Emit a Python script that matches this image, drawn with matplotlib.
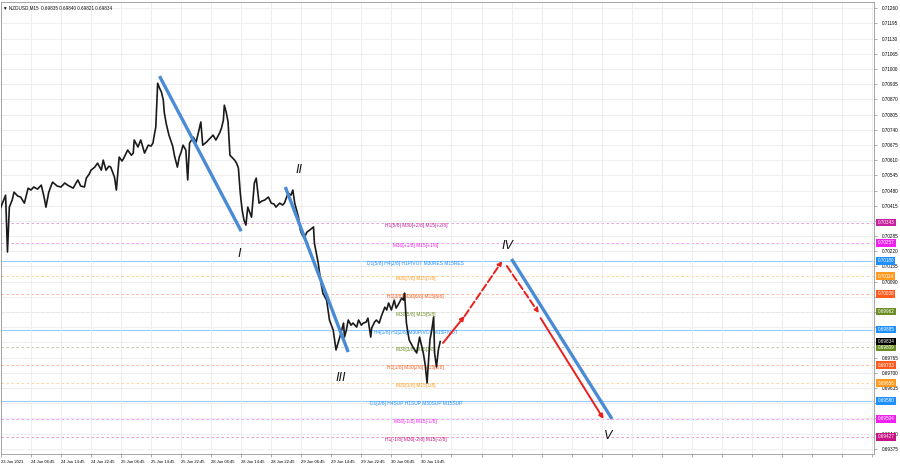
import numpy as np
import matplotlib
matplotlib.use("Agg")
import matplotlib.pyplot as plt
import matplotlib.transforms as mtransforms

# price path (M15 bar index, price)
bar_x = [0, 3, 5, 7, 9, 12, 14, 18, 21, 25, 29, 32, 35, 39, 43, 46, 48, 51, 55, 60,
         64, 68, 71, 77, 80, 82, 85, 89, 91, 94, 96, 100, 103, 107, 109, 112, 115, 117, 121, 123,
         126, 129, 131, 135, 139, 141, 142, 146, 149, 153, 157, 160, 162, 163, 165, 167, 169, 171, 173, 174,
         176, 179, 183, 185, 188, 190, 192, 194, 197, 199, 201, 205, 208, 211, 213, 215, 219, 221, 224, 226,
         229, 233, 235, 237, 238, 240, 242, 244, 249, 251, 253, 255, 257, 259, 261, 263, 267, 270, 272, 275,
         278, 281, 285, 288, 291, 293, 297, 300, 302, 306, 309, 311, 313, 315, 317, 319, 320, 323, 326, 329,
         333, 334, 338, 341, 343, 347, 350, 352, 354, 357, 361, 363, 365, 366, 368, 370, 373, 375, 379, 381,
         384, 386, 389, 391, 394, 395, 398, 400, 403, 405, 409, 411, 413, 416, 419, 421, 423, 427, 429, 430,
         432, 434, 435, 439, 443, 446, 448, 450, 452, 454, 457, 459, 461, 462, 464, 466, 468]
price = [0.70409, 0.70439, 0.70460, 0.70217, 0.70409, 0.70439, 0.70473, 0.70456, 0.70452, 0.70426,
         0.70490, 0.70482, 0.70495, 0.70486, 0.70503, 0.70452, 0.70409, 0.70473, 0.70516, 0.70499,
         0.70495, 0.70512, 0.70503, 0.70490, 0.70512, 0.70525, 0.70499, 0.70495, 0.70533, 0.70550,
         0.70567, 0.70580, 0.70597, 0.70567, 0.70610, 0.70567, 0.70584, 0.70580, 0.70537, 0.70482,
         0.70623, 0.70606, 0.70619, 0.70653, 0.70631, 0.70640, 0.70696, 0.70666, 0.70696, 0.70640,
         0.70674, 0.70670, 0.70683, 0.70708, 0.70751, 0.70939, 0.70918, 0.70901, 0.70867, 0.70815,
         0.70768, 0.70717, 0.70670, 0.70627, 0.70580, 0.70623, 0.70644, 0.70674, 0.70653, 0.70525,
         0.70683, 0.70708, 0.70687, 0.70738, 0.70773, 0.70674, 0.70687, 0.70696, 0.70708, 0.70717,
         0.70696, 0.70726, 0.70747, 0.70781, 0.70845, 0.70815, 0.70773, 0.70631, 0.70610, 0.70597,
         0.70576, 0.70469, 0.70396, 0.70353, 0.70332, 0.70409, 0.70366, 0.70512, 0.70533, 0.70426,
         0.70435, 0.70439, 0.70452, 0.70426, 0.70422, 0.70409, 0.70426, 0.70418, 0.70426, 0.70469,
         0.70460, 0.70482, 0.70426, 0.70396, 0.70366, 0.70311, 0.70298, 0.70277, 0.70302, 0.70311,
         0.70324, 0.70255, 0.70170, 0.70084, 0.70041, 0.70011, 0.69926, 0.69904, 0.69883, 0.69798,
         0.69853, 0.69883, 0.69913, 0.69853, 0.69883, 0.69926, 0.69904, 0.69913, 0.69896, 0.69926,
         0.69904, 0.69913, 0.69917, 0.69934, 0.69853, 0.69892, 0.69917, 0.69926, 0.69913, 0.69939,
         0.69981, 0.69969, 0.69999, 0.69969, 0.70011, 0.69977, 0.69990, 0.70020, 0.70011, 0.70041,
         0.69913, 0.69862, 0.69840, 0.69810, 0.69785, 0.69853, 0.69819, 0.69785, 0.69734, 0.69657,
         0.69840, 0.69883, 0.69939, 0.69785, 0.69725, 0.69798, 0.69834]

time_labels = ["23 Jun 2021", "24 Jun 06:45", "24 Jun 14:45", "24 Jun 22:45", "25 Jun 06:45",
               "25 Jun 14:45", "25 Jun 22:45", "28 Jun 06:45", "28 Jun 14:45", "28 Jun 22:45",
               "29 Jun 06:45", "29 Jun 14:45", "29 Jun 22:45", "30 Jun 06:45", "30 Jun 14:45"]

# Murrey math levels
level_price = [0.70343, 0.70257, 0.70180, 0.70114, 0.70038, 0.69962, 0.69885,
               0.69809, 0.69733, 0.69656, 0.69580, 0.69504, 0.69427]
level_text = ["H1[5/8] M30[+2/8] M15[+2/8]", "M30[+1/8] M15[+1/8]",
              "D1[5/8] H4[2/8] H1PIVOT M30RES M15RES", "M30[7/8] M15[7/8]",
              "H1[3/8] M30[6/8] M15[6/8]", "M30[5/8] M15[5/8]",
              "H4[1/8] H1[2/8] M30PIVOT M15PIVOT", "M30[3/8] M15[3/8]",
              "H1[1/8] M30[2/8] M15[2/8]", "M30[1/8] M15[1/8]",
              "D1[2/8] H4SUP H1SUP M30SUP M15SUP", "M30[-1/8] M15[-1/8]",
              "H1[-1/8] M30[-2/8] M15[-2/8]"]
level_color = ["#c8219f", "#ee22ee", "#1e8fff", "#ff9a1e", "#ff5a1e", "#6b8e23", "#1e8fff",
               "#6b8e23", "#ff5a1e", "#ff9a1e", "#1e8fff", "#ee22ee", "#c71585"]
level_style = ["--", "--", "-", "--", "--", "--", "-", "--", "--", "--", "-", "--", "--"]
current_price = 0.69834

# wave markup: (bar, price)
blue_lines = [((169, 0.70969), (256, 0.70306)),
              ((303, 0.70495), (370, 0.69789)),
              ((544, 0.70187), (651, 0.69503))]
red_arrows = [((471, 0.69828), (494, 0.69943), "-"),
              ((494, 0.69943), (534, 0.70178), "--"),
              ((539, 0.70157), (573, 0.69956), "--"),
              ((575, 0.69934), (642, 0.69503), "-")]
wave_names = ["I", "II", "III", "IV", "V"]
wave_pos = [(254, 0.70208), (318, 0.70567), (362, 0.69678), (540, 0.70242), (647, 0.69430)]

plt.rcParams['font.family'] = ['Liberation Sans', 'DejaVu Sans']

fig = plt.figure(figsize=(9, 4.68), dpi=100)
ax = fig.add_axes([0.001, 0.0299, 0.970, 0.9657])
ax.set_xlim(0, 930)
ax.set_ylim(0.69353, 0.71286)

# grid
xt = np.arange(0, 930, 32)
ax.set_xticks(xt)
ax.set_xticklabels(time_labels + [""] * (len(xt) - len(time_labels)), fontsize=3.0, ha="left")
yt = np.arange(0.69375, 0.71261, 0.00065)
box_prices = level_price + [current_price]
ylabels = []
for v in yt:
    # price boxes on the axis cover the tick labels next to them
    hidden = any(-0.00012 < (b - v) < 0.00014 for b in box_prices)
    ylabels.append("" if hidden else "%.5f" % v)
ax.set_yticks(yt)
ax.set_yticklabels(ylabels, fontsize=3.3)
ax.yaxis.tick_right()
ax.tick_params(axis="both", length=2, width=0.5, color="#888888", pad=2)
ax.tick_params(axis="y", pad=4)
ax.grid(True, color="#ebebeb", lw=0.6)
for s in ax.spines.values():
    s.set_color("#999999")
    s.set_linewidth(0.6)

# levels
for p, t, c, ls in zip(level_price, level_text, level_color, level_style):
    if ls == "-":
        ax.axhline(p, color=c, lw=0.8, alpha=0.45, zorder=1)
    else:
        ax.axhline(p, color=c, lw=0.6, ls=(0, (3, 3)), alpha=0.5, zorder=1)
    ax.annotate(t, (442, p), xytext=(0, -1.8), textcoords="offset points",
                ha="center", va="center", fontsize=3.5, color=c, zorder=2)

# price
ax.plot(bar_x, price, color="#1a1a1a", lw=1.2, zorder=4)

# wave lines
for (x0, y0), (x1, y1) in blue_lines:
    ax.plot([x0, x1], [y0, y1], color="#4a8bd6", lw=2.4, solid_capstyle="butt", zorder=5)
for (x0, y0), (x1, y1), ls in red_arrows:
    ax.annotate("", xy=(x1, y1), xytext=(x0, y0),
                arrowprops=dict(arrowstyle="-|>", color="#e8201e", lw=1.4, ls=ls,
                                mutation_scale=6, shrinkA=0, shrinkB=0), zorder=6)
for name, (x, y) in zip(wave_names, wave_pos):
    ax.text(x, y, name, fontsize=9, style="italic", ha="center", va="center", color="#111111")

# right axis price boxes
trans = mtransforms.blended_transform_factory(ax.transAxes, ax.transData)
for p, c in zip(level_price, level_color):
    ax.text(1.004, p, "%.5f" % p, transform=trans, fontsize=3.3, color="white", va="center",
            ha="left", clip_on=False, zorder=10,
            bbox=dict(boxstyle="square,pad=0.3", fc=c, ec="none"))
ax.text(1.004, current_price, "%.5f" % current_price, transform=trans, fontsize=3.3, color="white",
        va="center", ha="left", clip_on=False, zorder=10,
        bbox=dict(boxstyle="square,pad=0.3", fc="black", ec="none"))

ax.text(0.002, 0.993, "\u25BC NZDUSD,M15  0.69835 0.69840 0.69821 0.69834", transform=ax.transAxes,
        fontsize=3.3, va="top", ha="left", color="#111111")

fig.savefig("out.png", dpi=100)
